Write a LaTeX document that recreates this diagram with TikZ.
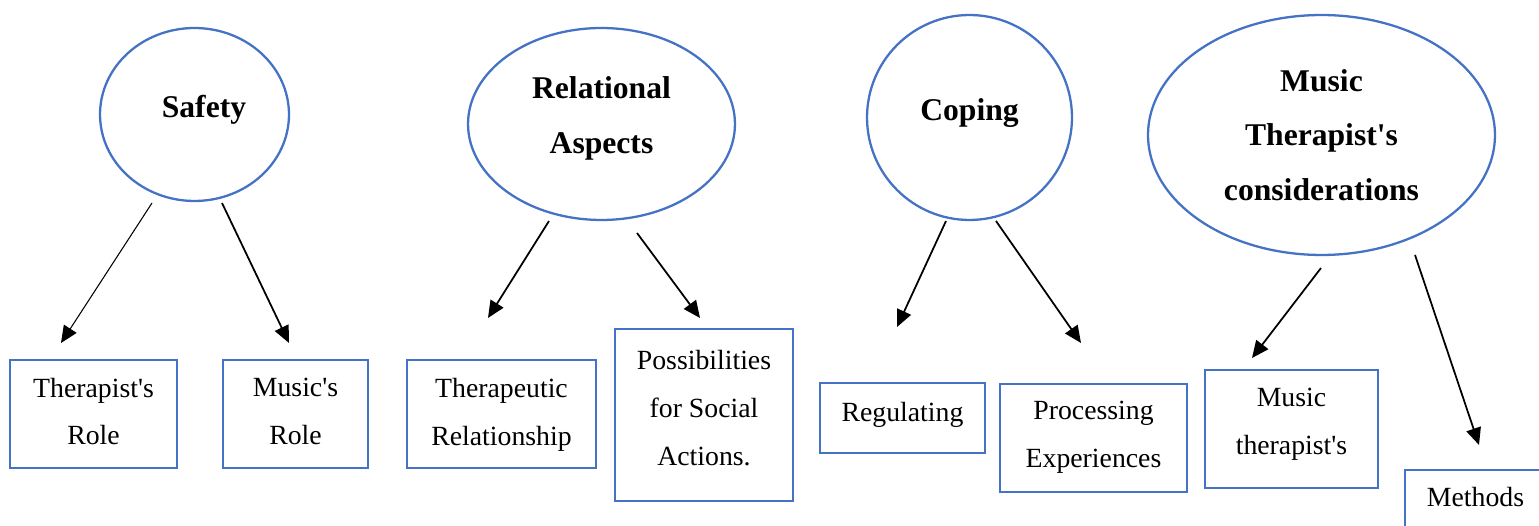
\documentclass[tikz,border=0pt]{standalone}
\usepackage{fontspec}
\setmainfont{Liberation Serif}
\usetikzlibrary{shapes.geometric, arrows.meta}
\definecolor{themeblue}{HTML}{4472C4}
\newcommand{\apos}{\textquotesingle}

\begin{document}
\begin{tikzpicture}[x=0.02cm, y=-0.02cm,
    theme/.style={ellipse, draw=themeblue, line width=1.3pt, inner sep=0pt},
    subtheme/.style={rectangle, draw=themeblue, line width=1.5pt, inner sep=0pt},
    themetext/.style={align=center, font=\fontsize{18}{31}\selectfont\bfseries},
    subtext/.style={align=center, font=\fontsize{15.8}{27.3}\selectfont},
    link/.style={-{Triangle[length=0.34cm, width=0.3cm]}, line width=1pt}]

    \useasboundingbox (0,0) rectangle (1539,526);

    % themes
    \node[theme, minimum width=3.78cm, minimum height=3.46cm] (safety) at (194.5,114.5) {};
    \node[theme, minimum width=5.34cm, minimum height=3.84cm] (relational) at (601.5,124) {};
    \node[theme, minimum width=4.10cm, minimum height=4.10cm] (coping) at (969.5,117.5) {};
    \node[theme, minimum width=6.94cm, minimum height=4.80cm] (mtc) at (1321.5,135) {};

    \node[themetext] (safety-txt) at (204,109.5) {Safety};
    \node[themetext] (relational-txt) at (601.5,118.6) {Relational\\Aspects};
    \node[themetext] (coping-txt) at (969.5,113.5) {Coping};
    \node[themetext] (mtc-txt) at (1321.5,135) {Music\\Therapist\apos s\\considerations};

    % sub-themes
    \node[subtheme, minimum width=3.34cm, minimum height=2.16cm] (trole) at (93.5,414) {};
    \node[subtheme, minimum width=2.90cm, minimum height=2.16cm] (mrole) at (295.5,414) {};
    \node[subtheme, minimum width=3.78cm, minimum height=2.16cm] (trel) at (501.5,414) {};
    \node[subtheme, minimum width=3.56cm, minimum height=3.44cm] (social) at (704,415) {};
    \node[subtheme, minimum width=3.30cm, minimum height=1.40cm] (regul) at (902.5,418) {};
    \node[subtheme, minimum width=3.74cm, minimum height=2.16cm] (proc) at (1093.5,438) {};
    \node[subtheme, minimum width=3.46cm, minimum height=2.36cm] (mther) at (1291.5,429) {};
    \node[subtheme, minimum width=2.82cm, minimum height=1.38cm] (methods) at (1475.5,504.5) {};

    \node[subtext] (trole-txt) at (93.5,411.5) {Therapist\apos s\\Role};
    \node[subtext] (mrole-txt) at (295.5,411.5) {Music\apos s\\Role};
    \node[subtext] (trel-txt) at (501.5,414.5) {Therapeutic\\Relationship};
    \node[subtext] (social-txt) at (704,408) {Possibilities\\for Social\\Actions.};
    \node[subtext] (regul-txt) at (902.5,414.5) {Regulating};
    \node[subtext] (proc-txt) at (1093.5,437) {Processing\\Experiences};
    \node[subtext] (mther-txt) at (1291.5,424) {Music\\therapist\apos s};
    \node[subtext] (methods-txt) at (1475.5,497.5) {Methods};

    % arrow ends
    \coordinate (safety-a) at (152,203);  \coordinate (trole-a) at (61,343);
    \coordinate (safety-b) at (222,203);  \coordinate (mrole-a) at (289,343);
    \coordinate (relational-a) at (549,221);  \coordinate (trel-a) at (488,318);
    \coordinate (relational-b) at (637,233);  \coordinate (social-a) at (700,318);
    \coordinate (coping-a) at (946,221);  \coordinate (regul-a) at (897,327);
    \coordinate (coping-b) at (996,221);  \coordinate (proc-a) at (1081,343);
    \coordinate (mtc-a) at (1321,268);  \coordinate (mther-a) at (1252,358);
    \coordinate (mtc-b) at (1415,255);  \coordinate (methods-a) at (1479,445);

    \draw[link, line width=0.6pt] (safety-a) -- (trole-a);
    \draw[link] (safety-b) -- (mrole-a);
    \draw[link] (relational-a) -- (trel-a);
    \draw[link] (relational-b) -- (social-a);
    \draw[link] (coping-a) -- (regul-a);
    \draw[link] (coping-b) -- (proc-a);
    \draw[link] (mtc-a) -- (mther-a);
    \draw[link] (mtc-b) -- (methods-a);
\end{tikzpicture}
\end{document}
